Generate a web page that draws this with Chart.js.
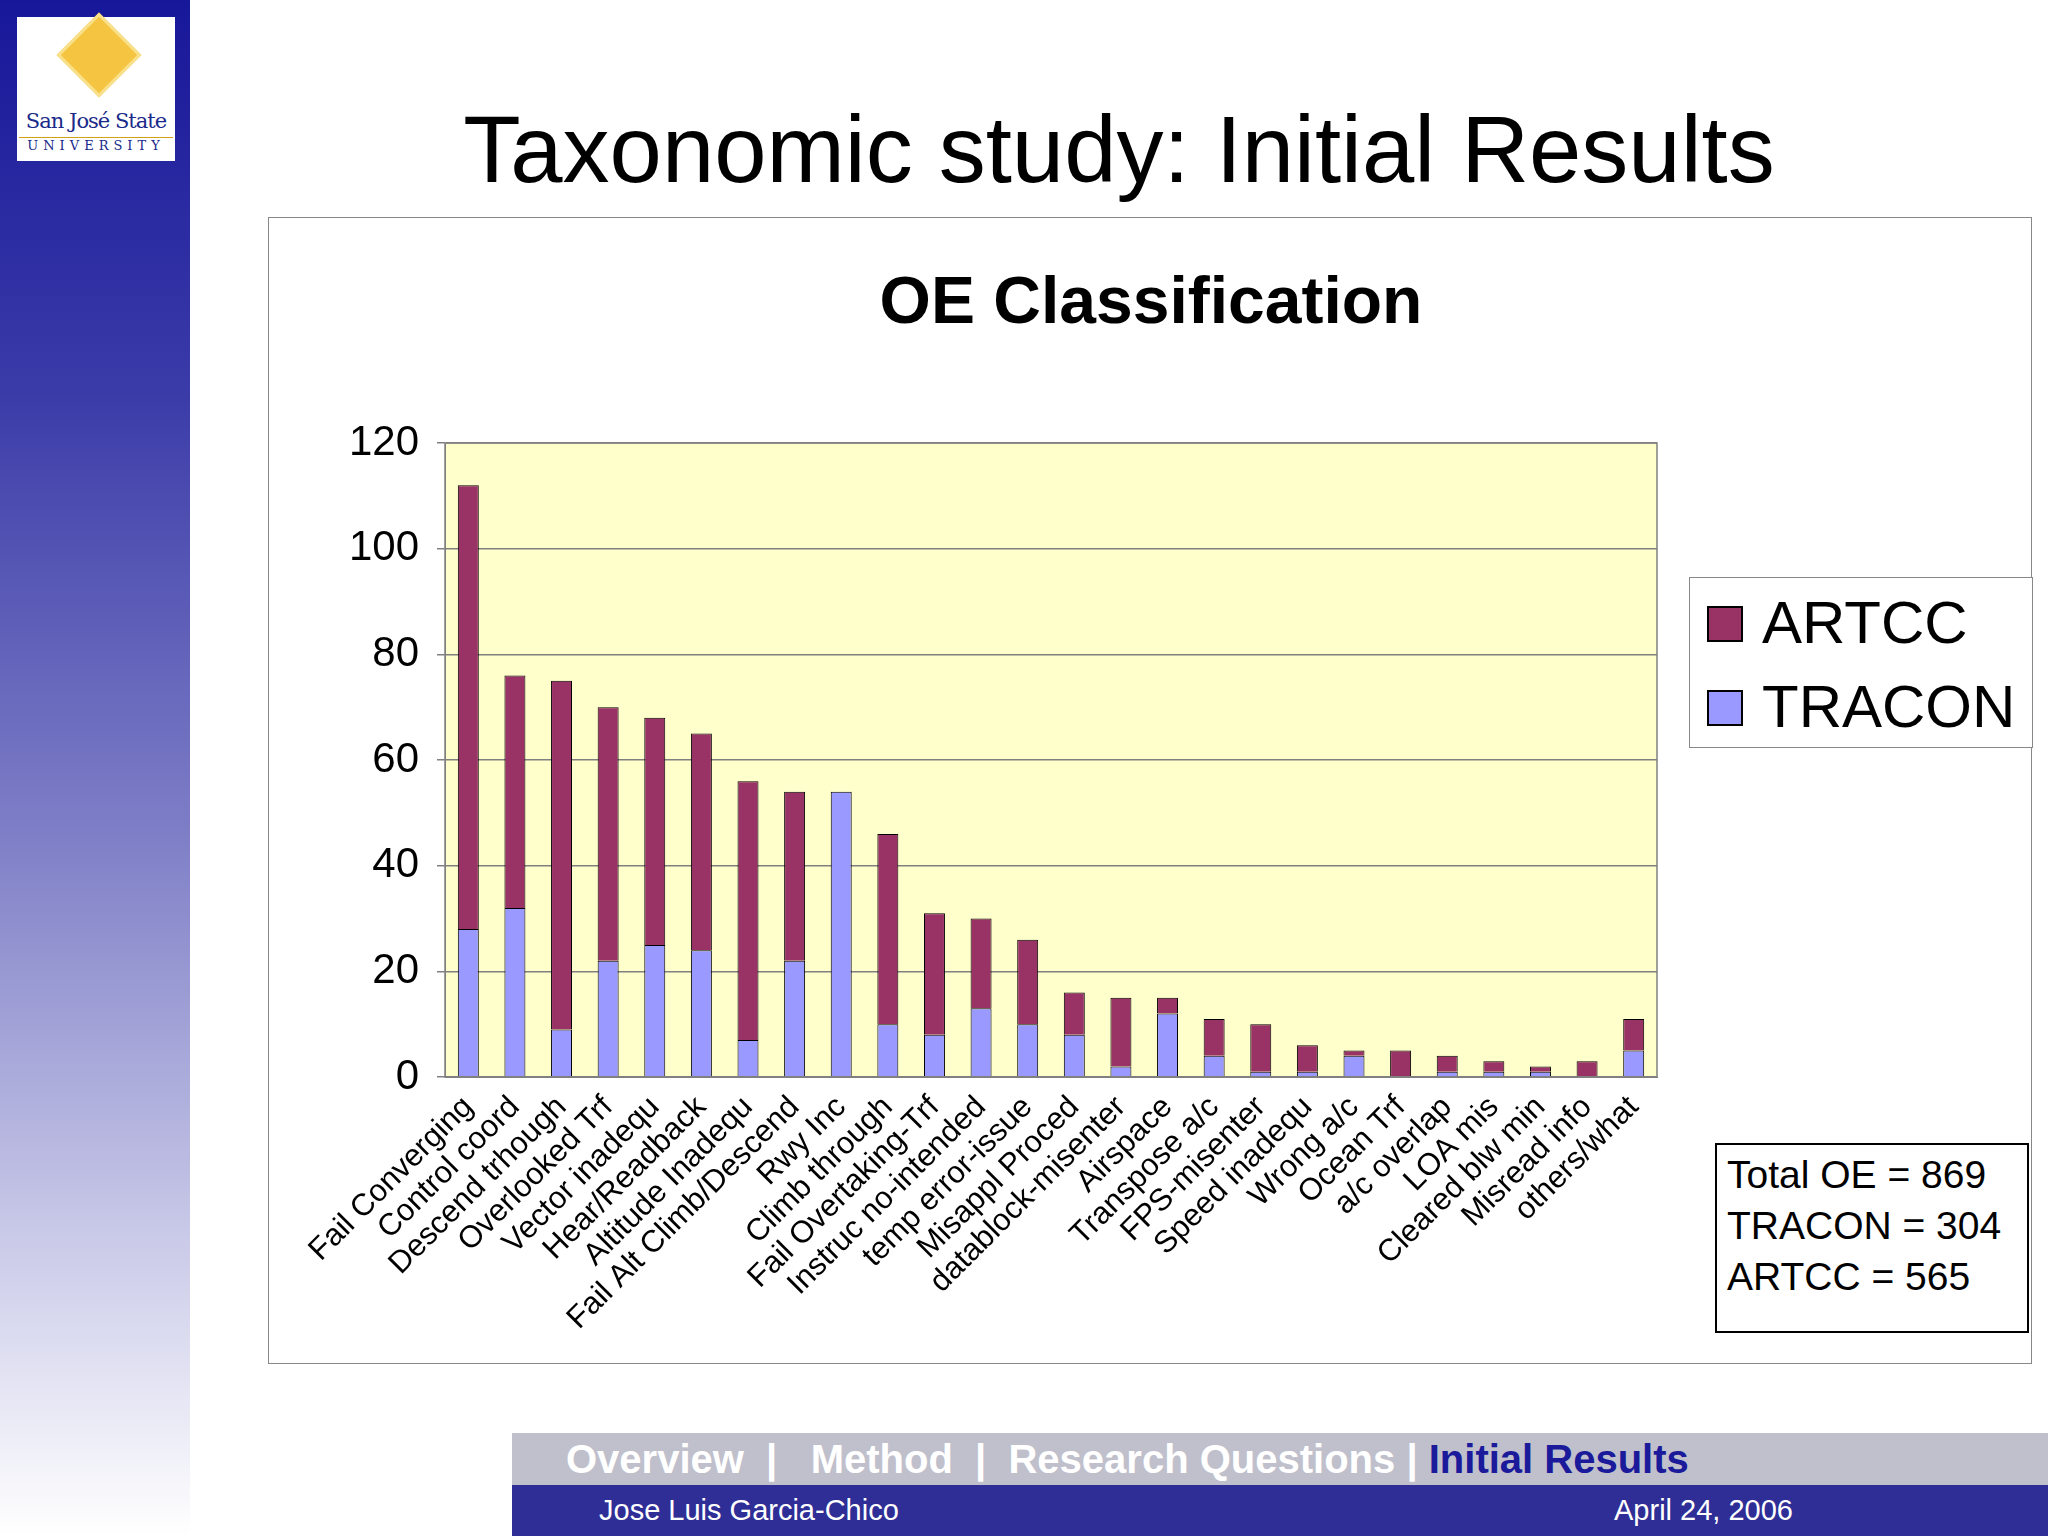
<!DOCTYPE html>
<html><head><meta charset="utf-8">
<script src="https://cdn.jsdelivr.net/npm/chart.js@4"></script>
<style>
body{margin:0;width:2048px;height:1536px;position:relative;background:#fff;font-family:"Liberation Sans",Arial,sans-serif;overflow:hidden}
.abs{position:absolute}
#side{left:0;top:0;width:190px;height:1536px;background:linear-gradient(#17179a 0%,#3a3aa8 25%,#8080c8 55%,#c8c8e8 80%,#ffffff 100%)}
#logo{left:17px;top:17px;width:158px;height:144px;background:#fff}
#frame{left:268px;top:217px;width:1764px;height:1147px;border:1.5px solid #888;box-sizing:border-box}
.box{border:2px solid #000;background:#fff;box-sizing:border-box}
</style></head><body>
<div id="side" class="abs"></div>
<div id="logo" class="abs">
 <div class="abs" style="left:52px;top:8px;width:54px;height:54px;transform:rotate(45deg);background:#f5c542;border:3px solid #f9e08a"></div>
 <div class="abs" style="left:0px;top:92px;width:158px;text-align:center;font-family:'DejaVu Serif',serif;font-size:21px;color:#1a2a8a;letter-spacing:-1px;white-space:nowrap">San José State</div>
 <div class="abs" style="left:2px;top:120px;width:154px;text-align:center;font-family:'DejaVu Serif',serif;font-size:13px;color:#1a2a8a;letter-spacing:5px;border-top:1px solid #d4a017;white-space:nowrap">UNIVERSITY</div>
</div>
<div class="abs" style="left:190px;width:1858px;top:96px;text-align:center;font-size:94px;color:#000">Taxonomic study: Initial Results</div>
<div id="frame" class="abs"></div>
<div class="abs" style="left:268px;width:1766px;top:262px;text-align:center;font-size:66px;font-weight:bold">OE Classification</div>
<div class="abs" style="left:268px;top:217px;width:1422px;height:1147px"><canvas id="c" width="1422" height="1147"></canvas></div>
<div class="abs" style="left:1689px;top:577px;width:344px;height:171px;border:1.5px solid #888;box-sizing:border-box;background:#fff">
 <div class="abs" style="left:17px;top:28px;width:36px;height:36px;background:#993366;border:2px solid #000;box-sizing:border-box"></div>
 <div class="abs" style="left:72px;top:10px;font-size:60px">ARTCC</div>
 <div class="abs" style="left:17px;top:112px;width:36px;height:36px;background:#9999FF;border:2px solid #000;box-sizing:border-box"></div>
 <div class="abs" style="left:72px;top:94px;font-size:60px">TRACON</div>
</div>
<div class="abs box" style="left:1715px;top:1143px;width:314px;height:190px;padding:4px 0 0 10px;font-size:39px;line-height:51px">Total OE = 869<br>TRACON = 304<br>ARTCC = 565</div>
<div class="abs" style="left:512px;top:1433px;width:1536px;height:52px;background:#c0c0cc;font-size:40px;font-weight:bold;color:#fff;line-height:52px;white-space:pre;padding-left:54px;box-sizing:border-box">Overview  |   Method  |  Research Questions | <span style="color:#1a1a9a">Initial Results</span></div>
<div class="abs" style="left:512px;top:1485px;width:1536px;height:51px;background:#2e2e96;color:#fff;font-size:29px;line-height:51px">
 <span class="abs" style="left:87px">Jose Luis Garcia-Chico</span><span class="abs" style="left:1102px">April 24, 2006</span></div>
<script>
const categories=["Fail Converging","Control coord","Descend trhough","Overlooked Trf","Vector inadequ","Hear/Readback","Altitude Inadequ","Fail Alt Climb/Descend","Rwy Inc","Climb through","Fail Overtaking-Trf","Instruc no-intended","temp error-issue","Misappl Proced","datablock-misenter","Airspace","Transpose a/c","FPS-misenter","Speed inadequ","Wrong a/c","Ocean Trf","a/c overlap","LOA mis","Cleared blw min","Misread info","others/what"];
const tracon=[28,32,9,22,25,24,7,22,54,10,8,13,10,8,2,12,4,1,1,4,0,1,1,1,0,5];
const artcc=[84,44,66,48,43,41,49,32,0,36,23,17,16,8,13,3,7,9,5,1,5,3,2,1,3,6];
const yTicks=[0,20,40,60,80,100,120];
const bg={id:'bg',beforeDraw(ch){const a=ch.chartArea,x=ch.ctx;x.save();x.fillStyle='#FFFFCC';x.fillRect(a.left,a.top,a.right-a.left,a.bottom-a.top);x.restore();},
 afterDraw(ch){const a=ch.chartArea,x=ch.ctx;x.save();x.strokeStyle='#808080';x.lineWidth=1.5;x.strokeRect(a.left,a.top,a.right-a.left,a.bottom-a.top);x.restore();}};
new Chart(document.getElementById('c'),{type:'bar',
 data:{labels:categories,datasets:[
  {label:'TRACON',data:tracon,backgroundColor:'#9999FF',borderColor:'#000',borderWidth:1,barPercentage:0.45,categoryPercentage:1},
  {label:'ARTCC',data:artcc,backgroundColor:'#993366',borderColor:'#000',borderWidth:1,barPercentage:0.45,categoryPercentage:1}]},
 options:{responsive:false,animation:false,layout:{padding:{top:226,right:33,left:0,bottom:0}},
  plugins:{legend:{display:false},tooltip:{enabled:false}},
  scales:{
   x:{stacked:true,grid:{display:false,drawTicks:true},border:{color:'#808080'},
      ticks:{color:'#000',font:{family:'Liberation Sans',size:31},maxRotation:45,minRotation:45,autoSkip:false,padding:4},
      afterFit(s){s.height=287;}},
   y:{stacked:true,min:0,max:120,afterBuildTicks(s){s.ticks=yTicks.map(v=>({value:v}));},
      grid:{color:'#808080',lineWidth:1.5,tickLength:8},border:{color:'#808080'},
      ticks:{color:'#000',font:{family:'Liberation Sans',size:42},padding:18},
      afterFit(s){s.width=177;}}}},
 plugins:[bg]});
</script>
</body></html>
